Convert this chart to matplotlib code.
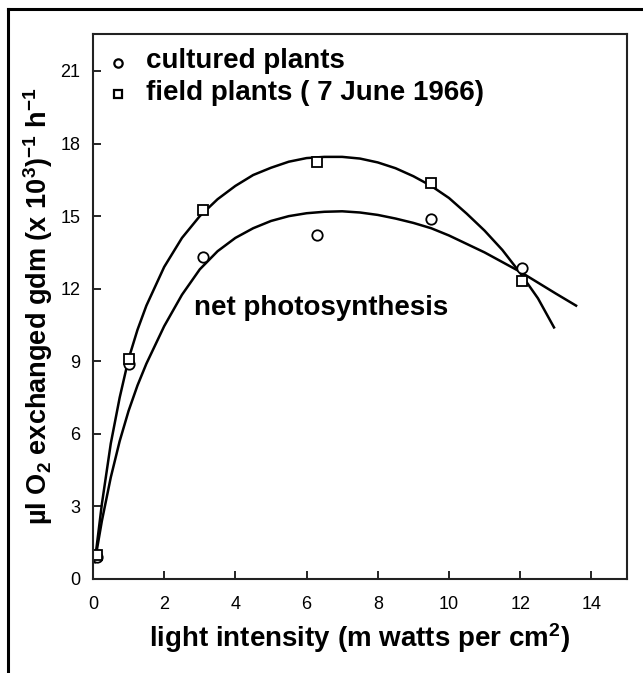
import matplotlib
matplotlib.use("Agg")
import matplotlib.pyplot as plt
from matplotlib.lines import Line2D

plt.rcParams['font.family'] = ['Liberation Sans', 'DejaVu Sans']
plt.rcParams['mathtext.fontset'] = 'custom'
plt.rcParams['mathtext.rm'] = 'Liberation Sans:bold'
plt.rcParams['mathtext.bf'] = 'Liberation Sans:bold'
plt.rcParams['mathtext.default'] = 'bf'

# measured points
light = [0.1, 1.0, 3.1, 6.3, 9.5, 12.05]
cultured = [0.9, 8.9, 13.3, 14.2, 14.9, 12.85]
field = [1.0, 9.1, 15.25, 17.25, 16.35, 12.3]

# hand-fitted curves
field_cx = [0.05, 0.25, 0.5, 0.75, 1.0, 1.25, 1.5, 2.0, 2.5, 3.0, 3.5, 4.0, 4.5, 5.0, 5.5, 6.0,
            6.5, 7.0, 7.5, 8.0, 8.5, 9.0, 9.5, 10.0, 10.5, 11.0, 11.5, 12.0, 12.5, 12.95]
field_cy = [0.7, 3.1, 5.6, 7.5, 9.1, 10.3, 11.3, 12.9, 14.1, 15.0, 15.7, 16.25, 16.7, 17.0, 17.25, 17.4,
            17.45, 17.45, 17.38, 17.22, 16.98, 16.65, 16.25, 15.75, 15.1, 14.4, 13.6, 12.65, 11.6, 10.4]
cult_cx = [0.05, 0.25, 0.5, 0.75, 1.0, 1.25, 1.5, 2.0, 2.5, 3.0, 3.5, 4.0, 4.5, 5.0, 5.5, 6.0,
           6.5, 7.0, 7.5, 8.0, 8.5, 9.0, 9.5, 10.0, 10.5, 11.0, 11.5, 12.0, 12.5, 13.0, 13.57]
cult_cy = [0.7, 2.4, 4.2, 5.7, 6.95, 8.0, 8.9, 10.45, 11.75, 12.8, 13.55, 14.1, 14.5, 14.8, 15.0, 15.12,
           15.18, 15.2, 15.15, 15.05, 14.9, 14.72, 14.5, 14.2, 13.85, 13.5, 13.1, 12.7, 12.25, 11.8, 11.3]

xticks = [0, 2, 4, 6, 8, 10, 12, 14]
yticks = [0, 3, 6, 9, 12, 15, 18, 21]

fig = plt.figure(figsize=(6.43, 6.73), dpi=100)
ax = fig.add_axes([0.1446, 0.1397, 0.8305, 0.8098])

ax.plot(field_cx, field_cy, color='black', lw=1.8)
ax.plot(cult_cx, cult_cy, color='black', lw=1.8)
ax.plot(light, cultured, 'o', ms=7.5, mfc='white', mec='black', mew=1.3, ls='none')
ax.plot(light, field, 's', ms=7, mfc='white', mec='black', mew=1.3, ls='none')

ax.set_xlim(0, 15)
ax.set_ylim(0, 22.53)
ax.set_xticks(xticks)
ax.set_yticks(yticks)
ax.tick_params(direction='in', length=6, width=1.2, labelsize=13)
ax.tick_params(axis='x', pad=12)
ax.tick_params(axis='y', pad=9)
for s in ax.spines.values():
    s.set_linewidth(1.5)
    s.set_color('#222222')

# legend drawn by hand
ax.plot([0.7], [21.35], 'o', ms=6, mfc='white', mec='black', mew=1.6)
ax.plot([0.7], [20.05], 's', ms=6, mfc='white', mec='black', mew=1.6)
ax.text(1.5, 21.4, 'cultured plants', fontsize=20, fontweight='bold', va='center')
ax.text(1.5, 20.1, 'field plants ( 7 June 1966)', fontsize=20, fontweight='bold', va='center')

ax.text(2.85, 11.2, 'net photosynthesis', fontsize=20, fontweight='bold', va='center')

ax.set_xlabel('light intensity (m watts per cm$^2$)', fontsize=20, fontweight='bold', labelpad=6)
ax.set_ylabel('\u00b5l O$_2$ exchanged gdm (x 10$^3$)$^{-1}$ h$^{-1}$', fontsize=19.5,
              fontweight='bold', labelpad=4)

# frame lines along top and left of the figure
fig.add_artist(Line2D([8 / 643, 1], [1 - 9 / 673, 1 - 9 / 673], color='black', lw=2.2))
fig.add_artist(Line2D([8 / 643, 8 / 643], [0, 1 - 9 / 673], color='black', lw=2.2))

fig.savefig('out.png', dpi=100)
